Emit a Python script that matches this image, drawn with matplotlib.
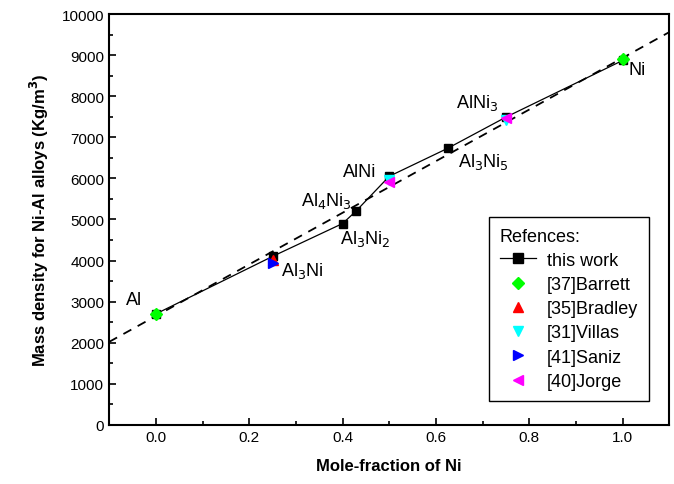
import matplotlib.pyplot as plt

plt.rcParams['font.family'] = ['Liberation Sans', 'DejaVu Sans']

# this work
x_work = [0.0, 0.25, 0.4, 0.4286, 0.5, 0.625, 0.75, 1.0]
y_work = [2700, 4100, 4900, 5200, 6050, 6730, 7490, 8870]

# linear fit (dashed)
x_fit = [-0.1, 1.1]
y_fit = [2020, 9560]

# references
x_barrett = [0.0, 1.0]
y_barrett = [2700, 8900]
x_bradley = [0.25]
y_bradley = [4020]
x_villas = [0.5, 0.75]
y_villas = [5960, 7430]
x_saniz = [0.25]
y_saniz = [3950]
x_jorge = [0.5, 0.75]
y_jorge = [5900, 7460]

labels = [("Al", -0.065, 3050), ("Al$_3$Ni", 0.268, 3770), ("Al$_3$Ni$_2$", 0.395, 4560),
          ("Al$_4$Ni$_3$", 0.31, 5480), ("AlNi", 0.4, 6160), ("Al$_3$Ni$_5$", 0.648, 6420),
          ("AlNi$_3$", 0.642, 7860), ("Ni", 1.013, 8650)]

fig = plt.figure(figsize=(6.74, 4.85), dpi=100)
ax = fig.add_axes([0.162, 0.122, 0.831, 0.847])

ax.plot(x_fit, y_fit, 'k--', lw=1.3, dashes=(5, 4))
ax.plot(x_work, y_work, 'k-', marker='s', ms=6, lw=0.9, label="this work")
ax.plot(x_barrett, y_barrett, 'D', color='#00ff00', ms=6, ls='none', label="[37]Barrett")
ax.plot(x_bradley, y_bradley, '^', color='#ff0000', ms=7, ls='none', label="[35]Bradley")
ax.plot(x_villas, y_villas, 'v', color='#00ffff', ms=7, ls='none', label="[31]Villas")
ax.plot(x_saniz, y_saniz, '>', color='#0000ff', ms=7, ls='none', label="[41]Saniz")
ax.plot(x_jorge, y_jorge, '<', color='#ff00ff', ms=7, ls='none', label="[40]Jorge")

for txt, tx, ty in labels:
    ax.text(tx, ty, txt, fontsize=13, ha='left', va='center')

ax.set_xlim(-0.1, 1.1)
ax.set_ylim(0, 10000)
ax.set_xticks([0.0, 0.2, 0.4, 0.6, 0.8, 1.0])
ax.set_xticks([-0.1, 0.1, 0.3, 0.5, 0.7, 0.9], minor=True)
ax.set_yticks(range(0, 10001, 1000))
ax.set_yticks(range(500, 10000, 1000), minor=True)
ax.tick_params(direction='in', length=5, width=1.2, labelsize=11)
ax.tick_params(which='minor', direction='in', length=3, width=1.2)
for s in ax.spines.values():
    s.set_linewidth(1.5)

ax.set_xlabel("Mole-fraction of Ni", fontsize=12, fontweight='bold', labelpad=10)
ax.set_ylabel("Mass density for Ni-Al alloys (Kg/m$^\\mathbf{3}$)", fontsize=12, fontweight='bold', labelpad=8)

leg = ax.legend(title="Refences:", loc='lower right', bbox_to_anchor=(0.97, 0.05),
                fontsize=13, title_fontsize=13, fancybox=False, edgecolor='black',
                framealpha=1, handlelength=2.0, handletextpad=0.6, borderpad=0.6,
                labelspacing=0.4, borderaxespad=0.2, markerscale=1.1)
leg._legend_box.align = 'left'
leg.get_frame().set_linewidth(1.0)

fig.savefig("out.png", dpi=100)
